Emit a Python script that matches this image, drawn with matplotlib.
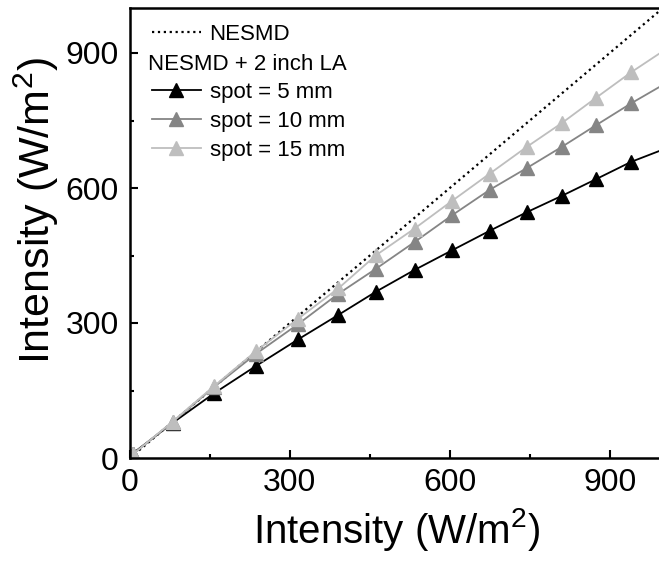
import matplotlib
matplotlib.use("Agg")
import matplotlib.pyplot as plt
from matplotlib.lines import Line2D
from matplotlib.ticker import MultipleLocator

plt.rcParams['font.family'] = ['Liberation Sans', 'DejaVu Sans']
plt.rcParams['mathtext.fontset'] = 'custom'
plt.rcParams['mathtext.rm'] = 'Liberation Sans'
plt.rcParams['mathtext.it'] = 'Liberation Sans'

# data
x_in = [5, 80, 158, 237, 316, 391, 462, 534, 605, 675, 744, 811, 875, 940, 1010]
spot5 = [10, 78, 144, 205, 264, 318, 370, 418, 462, 505, 546, 583, 620, 658, 690]
spot10 = [8, 80, 158, 232, 298, 365, 421, 480, 540, 596, 644, 692, 740, 788, 836]
spot15 = [8, 81, 160, 238, 310, 377, 451, 510, 572, 632, 691, 745, 801, 857, 912]
nesmd_x = [0, 1010]
nesmd_y = [0, 1010]

fig = plt.figure(figsize=(6.59, 5.61), dpi=100)
ax = fig.add_axes([130/659, 103/561, 533/659, 450/561])

ax.plot(nesmd_x, nesmd_y, ls=":", c="black", lw=1.6)
ax.plot(x_in, spot5, marker="^", ms=10, c="black", lw=1.3)
ax.plot(x_in, spot10, marker="^", ms=10, c="#858585", lw=1.3)
ax.plot(x_in, spot15, marker="^", ms=10, c="#bebebe", lw=1.3)

ax.set_xlim(0, 1000)
ax.set_ylim(0, 1000)
ax.xaxis.set_major_locator(MultipleLocator(300))
ax.xaxis.set_minor_locator(MultipleLocator(150))
ax.yaxis.set_major_locator(MultipleLocator(300))
ax.yaxis.set_minor_locator(MultipleLocator(150))
ax.tick_params(which="both", direction="in", width=1.5, labelsize=23)
ax.tick_params(axis="x", pad=7)
ax.tick_params(axis="y", pad=8)
ax.tick_params(which="major", length=6)
ax.tick_params(which="minor", length=3)
ax.spines["right"].set_visible(False)
for s in ["left", "bottom", "top"]:
    ax.spines[s].set_linewidth(1.8)

ax.set_xlabel("Intensity (W/m$^2$)", fontsize=29, labelpad=6)
ax.set_ylabel("Intensity (W/m$^2$)", fontsize=31)
ax.yaxis.set_label_coords(-0.13, 0.55)

# legend
handles = [
    Line2D([], [], ls=":", c="black", lw=1.6),
    Line2D([], [], ls="none"),
    Line2D([], [], marker="^", ms=10, c="black", lw=1.3),
    Line2D([], [], marker="^", ms=10, c="#858585", lw=1.3),
    Line2D([], [], marker="^", ms=10, c="#bebebe", lw=1.3),
]
labels = ["NESMD", " ", "spot = 5 mm", "spot = 10 mm", "spot = 15 mm"]
ax.legend(handles, labels, loc="upper left", frameon=False, fontsize=16,
          handlelength=2.2, handletextpad=0.4, labelspacing=0.36,
          borderaxespad=0.1, bbox_to_anchor=(0.02, 0.99))
ax.text(0.034, 0.875, "NESMD + 2 inch LA", transform=ax.transAxes,
        fontsize=16, va="center", ha="left")

fig.savefig("out.png", dpi=100)
